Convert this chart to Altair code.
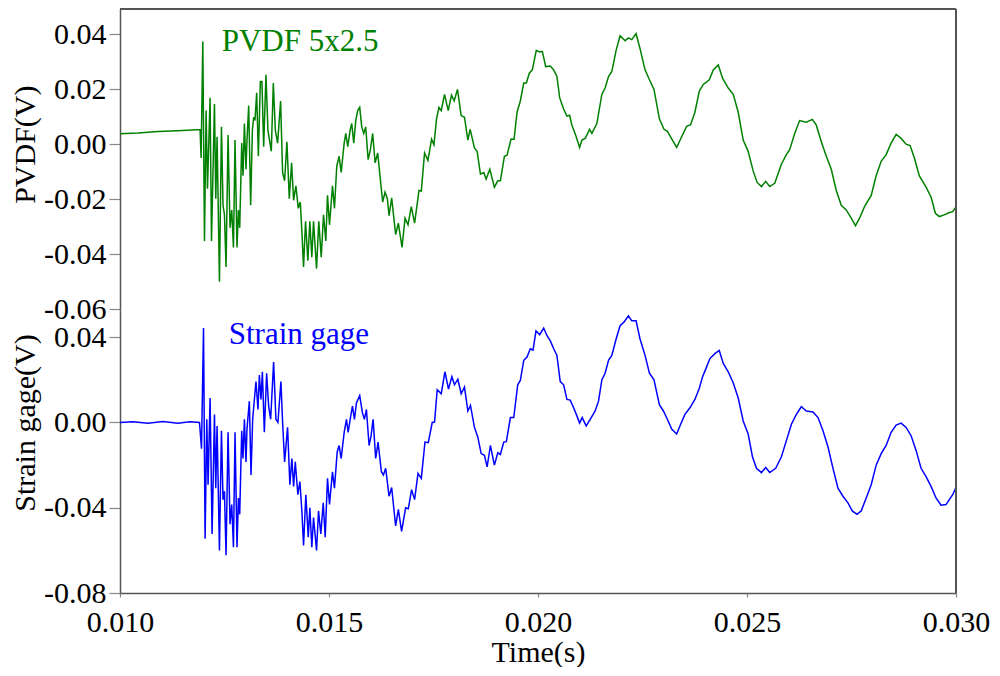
import altair as alt
import pandas as pd

# ---- PVDF 5x2.5 trace (time s, volts) ----
pvdf_time = [
    0.010000, 0.010430, 0.010907, 0.011384, 0.011916, 0.011940, 0.011981, 0.012021, 0.012060, 0.012093,
    0.012155, 0.012189, 0.012260, 0.012291, 0.012322, 0.012379, 0.012427, 0.012465, 0.012499, 0.012537,
    0.012585, 0.012632, 0.012673, 0.012714, 0.012752, 0.012799, 0.012833, 0.012864, 0.012912, 0.012943,
    0.012976, 0.013014, 0.013038, 0.013079, 0.013126, 0.013167, 0.013198, 0.013229, 0.013270, 0.013310,
    0.013358, 0.013396, 0.013437, 0.013492, 0.013539, 0.013620, 0.013668, 0.013716, 0.013771, 0.013842,
    0.013890, 0.013938, 0.013993, 0.014050, 0.014105, 0.014153, 0.014208, 0.014265, 0.014313, 0.014351,
    0.014391, 0.014439, 0.014494, 0.014542, 0.014589, 0.014630, 0.014702, 0.014756, 0.014814, 0.014869,
    0.014924, 0.014964, 0.015012, 0.015083, 0.015131, 0.015186, 0.015243, 0.015291, 0.015363, 0.015401,
    0.015449, 0.015506, 0.015544, 0.015592, 0.015640, 0.015687, 0.015735, 0.015783, 0.015831, 0.015878,
    0.015936, 0.015990, 0.016045, 0.016103, 0.016165, 0.016236, 0.016284, 0.016341, 0.016396, 0.016437,
    0.016499, 0.016594, 0.016659, 0.016747, 0.016819, 0.016890, 0.016969, 0.017048, 0.017153, 0.017208,
    0.017286, 0.017367, 0.017454, 0.017511, 0.017573, 0.017630, 0.017685, 0.017764, 0.017852, 0.017931,
    0.017995, 0.018074, 0.018162, 0.018241, 0.018322, 0.018377, 0.018480, 0.018544, 0.018623, 0.018704,
    0.018759, 0.018847, 0.018957, 0.019038, 0.019100, 0.019196, 0.019260, 0.019355, 0.019427, 0.019499,
    0.019577, 0.019659, 0.019721, 0.019792, 0.019864, 0.019959, 0.020040, 0.020103, 0.020184, 0.020293,
    0.020375, 0.020453, 0.020518, 0.020613, 0.020692, 0.020756, 0.020811, 0.020900, 0.020995, 0.021050,
    0.021129, 0.021234, 0.021289, 0.021408, 0.021527, 0.021606, 0.021687, 0.021766, 0.021869, 0.021964,
    0.022084, 0.022164, 0.022243, 0.022346, 0.022441, 0.022561, 0.022666, 0.022775, 0.022904, 0.023014,
    0.023095, 0.023198, 0.023317, 0.023437, 0.023556, 0.023651, 0.023754, 0.023859, 0.023954, 0.024098,
    0.024193, 0.024313, 0.024415, 0.024551, 0.024671, 0.024790, 0.024909, 0.025028, 0.025147, 0.025243,
    0.025346, 0.025448, 0.025544, 0.025663, 0.025823, 0.025942, 0.026021, 0.026141, 0.026260, 0.026420,
    0.026563, 0.026658, 0.026778, 0.026897, 0.027016, 0.027136, 0.027255, 0.027374, 0.027494, 0.027596,
    0.027692, 0.027811, 0.027971, 0.028090, 0.028210, 0.028329, 0.028448, 0.028568, 0.028687, 0.028806,
    0.028902, 0.029004, 0.029124, 0.029284, 0.029403, 0.029506, 0.029601, 0.029720, 0.029825, 0.029921,
    0.029976, 0.030000,
]
pvdf_volt = [
    0.0038, 0.0041, 0.0046, 0.0049, 0.0053, -0.0050, 0.0373, -0.0352, 0.0122, -0.0162,
    0.0169, -0.0352, 0.0146, -0.0198, 0.0027, -0.0500, 0.0063, -0.0222, -0.0257, -0.0446,
    0.0033, -0.0304, -0.0239, -0.0375, 0.0015, -0.0375, -0.0239, -0.0304, 0.0004, -0.0115,
    0.0075, -0.0091, 0.0015, 0.0140, -0.0222, 0.0051, 0.0098, 0.0086, 0.0187, -0.0044,
    0.0228, 0.0228, -0.0009, 0.0252, 0.0051, -0.0026, 0.0222, 0.0051, 0.0004, 0.0157,
    -0.0103, -0.0133, 0.0009, -0.0198, -0.0068, -0.0204, -0.0151, -0.0233, -0.0210, -0.0316,
    -0.0446, -0.0280, -0.0423, -0.0280, -0.0411, -0.0280, -0.0452, -0.0280, -0.0411, -0.0257,
    -0.0352, -0.0186, -0.0293, -0.0151, -0.0233, -0.0080, -0.0044, -0.0103, 0.0004, 0.0039,
    -0.0009, 0.0051, 0.0075, 0.0004, 0.0086, 0.0122, 0.0134, 0.0063, 0.0039, 0.0063,
    -0.0056, -0.0020, 0.0039, -0.0068, -0.0032, -0.0139, -0.0210, -0.0174, -0.0198, -0.0260,
    -0.0195, -0.0328, -0.0287, -0.0375, -0.0269, -0.0293, -0.0227, -0.0287, -0.0168, -0.0170,
    -0.0032, -0.0059, 0.0018, -0.0002, 0.0092, 0.0134, 0.0122, 0.0181, 0.0122, 0.0178,
    0.0157, 0.0199, 0.0104, 0.0098, 0.0015, 0.0054, -0.0014, -0.0026, -0.0109, -0.0103,
    -0.0127, -0.0091, -0.0156, -0.0133, -0.0133, -0.0044, -0.0040, 0.0019, 0.0018, 0.0116,
    0.0157, 0.0222, 0.0222, 0.0258, 0.0270, 0.0341, 0.0335, 0.0337, 0.0282, 0.0284,
    0.0270, 0.0246, 0.0169, 0.0128, 0.0102, 0.0105, 0.0069, 0.0033, -0.0012, 0.0015,
    0.0021, 0.0054, 0.0039, 0.0075, 0.0181, 0.0204, 0.0246, 0.0264, 0.0341, 0.0394,
    0.0376, 0.0386, 0.0380, 0.0402, 0.0347, 0.0270, 0.0234, 0.0199, 0.0092, 0.0054,
    0.0047, 0.0019, -0.0012, 0.0027, 0.0065, 0.0071, 0.0116, 0.0193, 0.0217, 0.0234,
    0.0270, 0.0288, 0.0240, 0.0204, 0.0181, 0.0116, 0.0015, -0.0026, -0.0097, -0.0139,
    -0.0154, -0.0135, -0.0154, -0.0142, -0.0073, -0.0038, -0.0020, 0.0039, 0.0086, 0.0080,
    0.0090, 0.0069, 0.0009, -0.0044, -0.0091, -0.0168, -0.0222, -0.0239, -0.0269, -0.0296,
    -0.0269, -0.0227, -0.0186, -0.0115, -0.0062, -0.0038, 0.0004, 0.0036, 0.0021, 0.0000,
    -0.0005, -0.0050, -0.0115, -0.0156, -0.0192, -0.0251, -0.0263, -0.0257, -0.0249, -0.0245,
    -0.0233, -0.0230,
]

# ---- Strain gage trace (time s, volts) ----
strain_time = [
    0.010000, 0.010310, 0.010668, 0.011026, 0.011384, 0.011671, 0.011902, 0.011950, 0.011998, 0.012036,
    0.012076, 0.012107, 0.012155, 0.012203, 0.012260, 0.012291, 0.012322, 0.012379, 0.012427, 0.012465,
    0.012499, 0.012537, 0.012585, 0.012632, 0.012673, 0.012714, 0.012752, 0.012799, 0.012833, 0.012864,
    0.012912, 0.012943, 0.012976, 0.013014, 0.013038, 0.013095, 0.013134, 0.013174, 0.013215, 0.013253,
    0.013301, 0.013334, 0.013372, 0.013406, 0.013453, 0.013508, 0.013556, 0.013604, 0.013675, 0.013730,
    0.013778, 0.013850, 0.013890, 0.013938, 0.014009, 0.014064, 0.014112, 0.014153, 0.014193, 0.014255,
    0.014303, 0.014351, 0.014391, 0.014446, 0.014504, 0.014542, 0.014589, 0.014630, 0.014702, 0.014749,
    0.014804, 0.014862, 0.014909, 0.014964, 0.015012, 0.015083, 0.015131, 0.015196, 0.015243, 0.015291,
    0.015363, 0.015418, 0.015458, 0.015520, 0.015561, 0.015609, 0.015656, 0.015735, 0.015799, 0.015847,
    0.015895, 0.015959, 0.016007, 0.016055, 0.016117, 0.016174, 0.016253, 0.016301, 0.016356, 0.016437,
    0.016499, 0.016594, 0.016659, 0.016737, 0.016833, 0.016897, 0.016976, 0.017048, 0.017129, 0.017208,
    0.017296, 0.017375, 0.017470, 0.017525, 0.017589, 0.017685, 0.017773, 0.017859, 0.017940, 0.018002,
    0.018083, 0.018162, 0.018241, 0.018322, 0.018384, 0.018480, 0.018561, 0.018640, 0.018718, 0.018783,
    0.018861, 0.018957, 0.019038, 0.019100, 0.019181, 0.019243, 0.019339, 0.019420, 0.019515, 0.019577,
    0.019659, 0.019737, 0.019816, 0.019881, 0.019952, 0.020040, 0.020136, 0.020215, 0.020293, 0.020375,
    0.020453, 0.020532, 0.020613, 0.020692, 0.020771, 0.020852, 0.020931, 0.020995, 0.021057, 0.021153,
    0.021248, 0.021367, 0.021448, 0.021527, 0.021606, 0.021687, 0.021766, 0.021869, 0.021964, 0.022060,
    0.022164, 0.022243, 0.022346, 0.022441, 0.022561, 0.022666, 0.022775, 0.022904, 0.023000, 0.023095,
    0.023198, 0.023317, 0.023413, 0.023515, 0.023635, 0.023754, 0.023859, 0.023938, 0.024034, 0.024112,
    0.024232, 0.024336, 0.024432, 0.024551, 0.024671, 0.024790, 0.024909, 0.025028, 0.025131, 0.025226,
    0.025346, 0.025448, 0.025544, 0.025687, 0.025823, 0.025942, 0.026062, 0.026181, 0.026300, 0.026420,
    0.026580, 0.026699, 0.026818, 0.026938, 0.027057, 0.027176, 0.027296, 0.027415, 0.027518, 0.027630,
    0.027732, 0.027852, 0.027971, 0.028090, 0.028210, 0.028329, 0.028448, 0.028568, 0.028687, 0.028806,
    0.028926, 0.029045, 0.029164, 0.029284, 0.029403, 0.029522, 0.029642, 0.029761, 0.029840, 0.029921,
    0.029976, 0.030000,
]
strain_volt = [
    0.0000, 0.0004, -0.0004, 0.0005, -0.0003, 0.0003, 0.0000, -0.0123, 0.0443, -0.0546,
    0.0015, -0.0292, 0.0115, -0.0523, 0.0038, -0.0308, -0.0016, -0.0600, -0.0039, -0.0362,
    -0.0323, -0.0623, -0.0046, -0.0477, -0.0385, -0.0585, -0.0046, -0.0585, -0.0354, -0.0431,
    -0.0039, -0.0169, 0.0015, -0.0185, -0.0030, 0.0100, -0.0246, 0.0015, 0.0108, 0.0192,
    0.0061, 0.0223, 0.0108, 0.0238, -0.0046, 0.0231, 0.0077, 0.0015, 0.0284, 0.0015,
    0.0000, 0.0192, 0.0000, -0.0185, -0.0023, -0.0292, -0.0169, -0.0300, -0.0185, -0.0339,
    -0.0277, -0.0415, -0.0577, -0.0339, -0.0538, -0.0400, -0.0585, -0.0446, -0.0600, -0.0415,
    -0.0523, -0.0377, -0.0538, -0.0262, -0.0385, -0.0231, -0.0308, -0.0138, -0.0108, -0.0169,
    -0.0046, 0.0015, -0.0046, 0.0031, 0.0077, 0.0015, 0.0092, 0.0126, 0.0046, 0.0015,
    0.0061, -0.0108, -0.0062, 0.0015, -0.0169, -0.0092, -0.0231, -0.0246, -0.0215, -0.0346,
    -0.0305, -0.0485, -0.0408, -0.0511, -0.0400, -0.0405, -0.0315, -0.0362, -0.0239, -0.0262,
    -0.0092, -0.0095, 0.0000, 0.0002, 0.0154, 0.0135, 0.0238, 0.0157, 0.0215, 0.0177,
    0.0203, 0.0135, 0.0166, 0.0054, 0.0080, -0.0023, -0.0069, -0.0146, -0.0154, -0.0208,
    -0.0108, -0.0200, -0.0142, -0.0150, -0.0092, -0.0090, 0.0023, 0.0023, 0.0177, 0.0197,
    0.0292, 0.0307, 0.0346, 0.0340, 0.0430, 0.0412, 0.0443, 0.0407, 0.0384, 0.0346,
    0.0315, 0.0192, 0.0177, 0.0108, 0.0105, 0.0069, 0.0031, -0.0003, 0.0023, -0.0016,
    0.0015, 0.0054, 0.0100, 0.0200, 0.0231, 0.0292, 0.0315, 0.0392, 0.0454, 0.0472,
    0.0500, 0.0477, 0.0477, 0.0392, 0.0315, 0.0231, 0.0200, 0.0084, 0.0054, 0.0015,
    -0.0031, -0.0054, -0.0008, 0.0038, 0.0069, 0.0108, 0.0161, 0.0215, 0.0261, 0.0300,
    0.0323, 0.0338, 0.0277, 0.0238, 0.0185, 0.0115, 0.0007, -0.0054, -0.0161, -0.0215,
    -0.0235, -0.0211, -0.0235, -0.0215, -0.0161, -0.0085, -0.0008, 0.0038, 0.0074, 0.0054,
    0.0049, 0.0023, -0.0039, -0.0115, -0.0215, -0.0308, -0.0346, -0.0377, -0.0415, -0.0431,
    -0.0415, -0.0354, -0.0292, -0.0200, -0.0146, -0.0108, -0.0046, -0.0012, -0.0003, -0.0023,
    -0.0062, -0.0131, -0.0215, -0.0254, -0.0300, -0.0354, -0.0388, -0.0385, -0.0362, -0.0339,
    -0.0315, -0.0305,
]

time_ticks = [0.010, 0.015, 0.020, 0.025, 0.030]
pvdf_ticks = [0.04, 0.02, 0.00, -0.02, -0.04, -0.06]
strain_ticks = [0.04, 0.00, -0.04, -0.08]
time_domain = [0.010, 0.030]
pvdf_domain = [-0.06025, 0.04912]
strain_domain = [-0.080, 0.05278]

labels = ["PVDF 5x2.5", "Strain gage"]
label_time = [0.012434, 0.012601]
label_volt = [0.0337, 0.0366]

FONT = "Liberation Serif"
GREEN = "#008000"
BLUE = "#0000ff"
FRAME = "#555555"
W = 836
H_TOP = 301
H_BOT = 283

df_pvdf = pd.DataFrame({"t": pvdf_time, "v": pvdf_volt})
df_strain = pd.DataFrame({"t": strain_time, "v": strain_volt})

xscale = alt.Scale(domain=time_domain, nice=False, zero=False)
label_expr = "replace(format(datum.value, '.2f'), '\u2212', '-')"


def y_axis(ticks, title, title_x, title_y):
    return alt.Axis(values=ticks, labelExpr=label_expr, title=title,
                    labelFont=FONT, titleFont=FONT, labelFontSize=30, titleFontSize=30,
                    tickSize=11, labelPadding=3, minExtent=77, maxExtent=77,
                    titleX=title_x, titleY=title_y, titleBaseline="alphabetic",
                    titleAngle=270, titleAlign="center", labelFlush=False,
                    labelOverlap=False, grid=False, domainColor=FRAME, domainWidth=1.5)


# ---------------- top panel ----------------
top_line = alt.Chart(df_pvdf).mark_line(color=GREEN, strokeWidth=1.5, clip=True).encode(
    x=alt.X("t:Q", scale=xscale, axis=None),
    y=alt.Y("v:Q", scale=alt.Scale(domain=pvdf_domain, nice=False, zero=False),
            axis=y_axis(pvdf_ticks, "PVDF(V)", -86, 135.2)),
)
top_right = alt.Chart(df_pvdf).mark_rule(color=FRAME, strokeWidth=1.5).encode(
    x=alt.datum(time_domain[1])
)
top_edge = alt.Chart(df_pvdf).mark_rule(color=FRAME, strokeWidth=1.5).encode(
    y=alt.datum(pvdf_domain[1])
)
top_label = alt.Chart(pd.DataFrame({"t": label_time[:1], "v": label_volt[:1], "s": labels[:1]})).mark_text(
    font=FONT, fontSize=31, color=GREEN, align="left", baseline="alphabetic"
).encode(x="t:Q", y="v:Q", text="s:N")
top = alt.layer(top_line, top_right, top_edge, top_label).properties(width=W, height=H_TOP)

# ---------------- bottom panel ----------------
bot_line = alt.Chart(df_strain).mark_line(color=BLUE, strokeWidth=1.5, clip=True).encode(
    x=alt.X("t:Q", scale=xscale,
            axis=alt.Axis(values=time_ticks, format=".3f", title="Time(s)", tickSize=4,
                          labelFont=FONT, titleFont=FONT, labelFontSize=30, titleFontSize=30,
                          labelPadding=10, labelFlush=False, titleY=68,
                          titleBaseline="alphabetic", grid=False,
                          domainColor=FRAME, domainWidth=1.5)),
    y=alt.Y("v:Q", scale=alt.Scale(domain=strain_domain, nice=False, zero=False),
            axis=y_axis(strain_ticks, "Strain gage(V)", -86, 112.5)),
)
bot_right = alt.Chart(df_strain).mark_rule(color=FRAME, strokeWidth=1.5).encode(
    x=alt.datum(time_domain[1])
)
bot_label = alt.Chart(pd.DataFrame({"t": label_time[1:], "v": label_volt[1:], "s": labels[1:]})).mark_text(
    font=FONT, fontSize=31, color=BLUE, align="left", baseline="alphabetic"
).encode(x="t:Q", y="v:Q", text="s:N")
bottom = alt.layer(bot_line, bot_right, bot_label).properties(width=W, height=H_BOT)

chart = alt.vconcat(top, bottom, spacing=0, bounds="flush").configure_view(
    stroke=None
).configure_axis(
    labelFont=FONT, titleFont=FONT, labelFontSize=30, titleFontSize=30,
    titleFontWeight="normal", labelColor="black", titleColor="black",
    tickColor="#888888", tickWidth=1.2,
).properties(
    padding={"left": 2, "top": 0, "right": 0, "bottom": 0}
)

chart.save("out.html", embed_options={"renderer": "svg", "actions": False})
